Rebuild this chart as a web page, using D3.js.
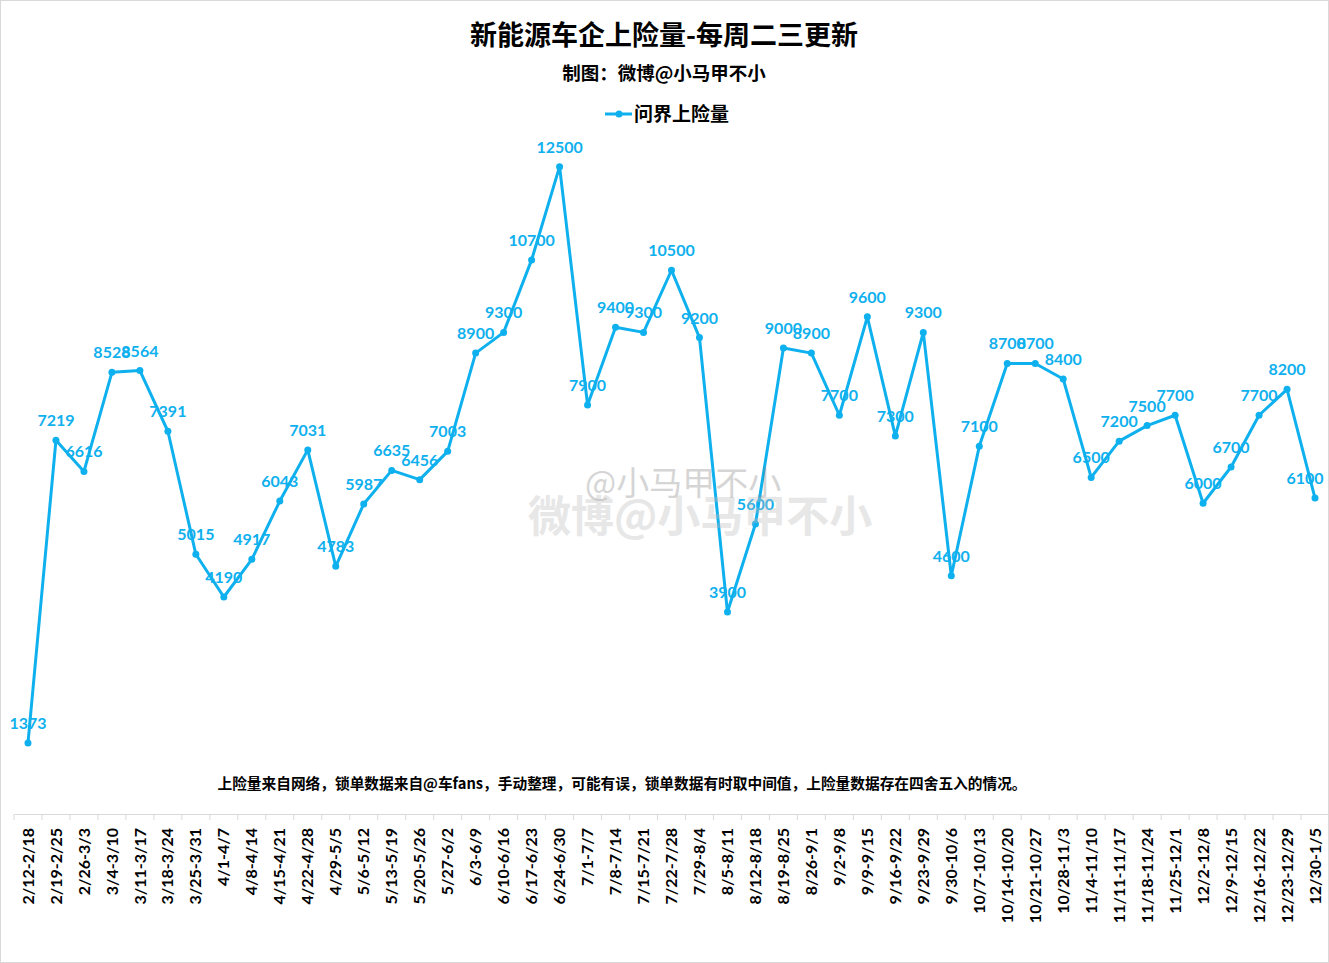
<!DOCTYPE html>
<html>
<head>
<meta charset="utf-8">
<script src="https://cdn.jsdelivr.net/npm/d3@7"></script>
<style>
  html, body { margin: 0; padding: 0; background: #fff; }
  #chart { width: 1329px; height: 963px; }
  text { font-family: Lato, "Noto Sans CJK SC", sans-serif; }
  .cjk { font-family: "Noto Sans CJK SC", sans-serif; }
</style>
</head>
<body>
<div id="chart"></div>
<script>
const weeks = ['2/12-2/18','2/19-2/25','2/26-3/3','3/4-3/10','3/11-3/17','3/18-3/24','3/25-3/31',
  '4/1-4/7','4/8-4/14','4/15-4/21','4/22-4/28','4/29-5/5','5/6-5/12','5/13-5/19','5/20-5/26',
  '5/27-6/2','6/3-6/9','6/10-6/16','6/17-6/23','6/24-6/30','7/1-7/7','7/8-7/14','7/15-7/21',
  '7/22-7/28','7/29-8/4','8/5-8/11','8/12-8/18','8/19-8/25','8/26-9/1','9/2-9/8','9/9-9/15',
  '9/16-9/22','9/23-9/29','9/30-10/6','10/7-10/13','10/14-10/20','10/21-10/27','10/28-11/3',
  '11/4-11/10','11/11-11/17','11/18-11/24','11/25-12/1','12/2-12/8','12/9-12/15','12/16-12/22',
  '12/23-12/29','12/30-1/5'];
const wenjie = [1373,7219,6616,8528,8564,7391,5015,4190,4917,6043,7031,4783,5987,6635,6456,
  7003,8900,9300,10700,12500,7900,9400,9300,10500,9200,3900,5600,9000,8900,7700,9600,
  7300,9300,4600,7100,8700,8700,8400,6500,7200,7500,7700,6000,6700,7700,8200,6100];
const seriesName = '问界上险量';
const yDomain = [0, 14000];

const W = 1329, H = 963;
const blue = '#0fb0ee';
const svg = d3.select('#chart').append('svg')
  .attr('width', W).attr('height', H);

svg.append('rect')
  .attr('x', 0.5).attr('y', 0.5).attr('width', W - 1).attr('height', H - 1)
  .attr('fill', '#fff').attr('stroke', '#d9d9d9');

const xScale = d3.scaleBand().domain(weeks).range([14, 1329]);
const yScale = d3.scaleLinear().domain(yDomain).range([814, 89]);
const cx = d => xScale(d) + xScale.bandwidth() / 2;

// titles
svg.append('text').attr('class', 'cjk')
  .attr('x', 664).attr('y', 45).attr('text-anchor', 'middle')
  .attr('font-size', 27).attr('font-weight', 'bold').attr('fill', '#000')
  .text('新能源车企上险量-每周二三更新');
svg.append('text').attr('class', 'cjk')
  .attr('x', 664).attr('y', 80).attr('text-anchor', 'middle')
  .attr('font-size', 18.5).attr('font-weight', 'bold').attr('fill', '#000')
  .text('制图：微博@小马甲不小');

// legend
const lg = svg.append('g').attr('transform', 'translate(605,114)');
lg.append('line').attr('x1', 0).attr('x2', 27).attr('y1', 0).attr('y2', 0)
  .attr('stroke', blue).attr('stroke-width', 3);
lg.append('circle').attr('cx', 14).attr('cy', 0).attr('r', 3.5).attr('fill', blue);
lg.append('text').attr('class', 'cjk')
  .attr('x', 29).attr('y', 7).attr('font-size', 19).attr('font-weight', 'bold')
  .attr('fill', '#000').text(seriesName);

// x axis
const xAxis = d3.axisBottom(xScale).tickSize(0).tickSizeOuter(0);
const xAxisG = svg.append('g')
  .attr('transform', 'translate(0,814)')
  .call(xAxis);
xAxisG.select('.domain').attr('stroke', '#d9d9d9');
xAxisG.selectAll('.tick text')
  .attr('transform', 'rotate(-90)')
  .attr('text-anchor', 'end')
  .attr('x', -14).attr('y', 0).attr('dy', '0.35em')
  .attr('font-size', 16).attr('font-weight', 'bold').attr('fill', '#000')
  .style('font-family', 'Lato, sans-serif');
// boundary ticks
svg.append('g').selectAll('line')
  .data(weeks.concat(['end']))
  .join('line')
  .attr('x1', (d, i) => 14 + i * xScale.step())
  .attr('x2', (d, i) => 14 + i * xScale.step())
  .attr('y1', 814).attr('y2', 820)
  .attr('stroke', '#d9d9d9');

// footnote
svg.append('text').attr('class', 'cjk')
  .attr('x', 622).attr('y', 789).attr('text-anchor', 'middle')
  .attr('font-size', 14.7).attr('font-weight', 'bold').attr('fill', '#000')
  .text('上险量来自网络，锁单数据来自@车fans，手动整理，可能有误，锁单数据有时取中间值，上险量数据存在四舍五入的情况。');

// line
const line = d3.line()
  .x((d, i) => cx(weeks[i]))
  .y(d => yScale(d));
svg.append('path').datum(wenjie)
  .attr('d', line)
  .attr('fill', 'none').attr('stroke', blue).attr('stroke-width', 3)
  .attr('stroke-linejoin', 'round');

svg.append('g').selectAll('circle')
  .data(wenjie)
  .join('circle')
  .attr('cx', (d, i) => cx(weeks[i]))
  .attr('cy', d => yScale(d))
  .attr('r', 3.5).attr('fill', blue);

// labels, kept inside the right edge like Excel does
svg.append('g').selectAll('text')
  .data(wenjie)
  .join('text')
  .attr('x', (d, i) => Math.min(cx(weeks[i]), W - 24))
  .attr('y', d => yScale(d) - 14)
  .attr('text-anchor', 'middle')
  .attr('font-size', 16).attr('font-weight', 'bold').attr('fill', blue)
  .text(d => d);

// watermark
svg.append('text').attr('class', 'cjk')
  .attr('x', 585).attr('y', 495).attr('font-size', 33)
  .attr('fill', '#888').attr('opacity', 0.35)
  .text('@小马甲不小');
svg.append('text').attr('class', 'cjk')
  .attr('x', 528).attr('y', 532).attr('font-size', 43).attr('font-weight', 'bold')
  .attr('fill', '#bbb').attr('opacity', 0.35)
  .text('微博@小马甲不小');
</script>
</body>
</html>
